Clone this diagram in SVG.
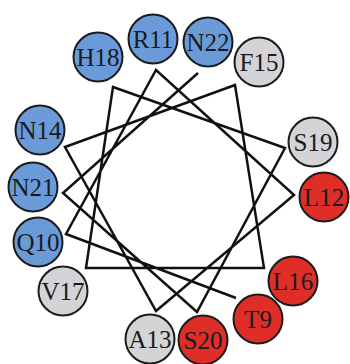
<svg xmlns="http://www.w3.org/2000/svg" width="350" height="364" viewBox="0 0 350 364">
<style>
.b{fill:#6a9bd8}
.g{fill:#d4d4d6}
.r{fill:#df2e28}
circle{stroke:#1c1c1c;stroke-width:2;r:24.5}
text{font-family:"Liberation Serif","Times New Roman",serif;font-size:25px;text-anchor:middle;fill:#1a1a22}
.conn{fill:none;stroke:#111;stroke-width:2.5;stroke-linejoin:miter}
</style>
<rect width="350" height="364" fill="#fff"/>
<g id="connectors">
<polyline class="conn" points="236,298 66,234 156,70 294,195 156,311 65,147 235,85 264,268 86,268 113,87 285,148 197,312 63,193 198,73"/>
</g>
<g id="H18"><circle class="b" cx="98" cy="57" r="24.5"/><text x="98" y="65.5">H18</text></g>
<g id="R11"><circle class="b" cx="153" cy="39" r="24.5"/><text x="153" y="47.5">R11</text></g>
<g id="N22"><circle class="b" cx="208" cy="42" r="24.5"/><text x="208" y="50.5">N22</text></g>
<g id="F15"><circle class="g" cx="259" cy="62" r="24.5"/><text x="259" y="70.5">F15</text></g>
<g id="S19"><circle class="g" cx="313" cy="142" r="24.5"/><text x="313" y="150.5">S19</text></g>
<g id="L12"><circle class="r" cx="324" cy="197" r="24.5"/><text x="324" y="205.5">L12</text></g>
<g id="L16"><circle class="r" cx="293" cy="281" r="24.5"/><text x="293" y="289.5">L16</text></g>
<g id="T9"><circle class="r" cx="258" cy="319" r="24.5"/><text x="258" y="327.5">T9</text></g>
<g id="S20"><circle class="r" cx="203" cy="340" r="24.5"/><text x="203" y="348.5">S20</text></g>
<g id="A13"><circle class="g" cx="150" cy="339" r="24.5"/><text x="150" y="347.5">A13</text></g>
<g id="V17"><circle class="g" cx="63" cy="291" r="24.5"/><text x="63" y="299.5">V17</text></g>
<g id="Q10"><circle class="b" cx="38" cy="242" r="24.5"/><text x="38" y="250.5">Q10</text></g>
<g id="N21"><circle class="b" cx="33" cy="187" r="24.5"/><text x="33" y="195.5">N21</text></g>
<g id="N14"><circle class="b" cx="40" cy="130" r="24.5"/><text x="40" y="138.5">N14</text></g>
</svg>
